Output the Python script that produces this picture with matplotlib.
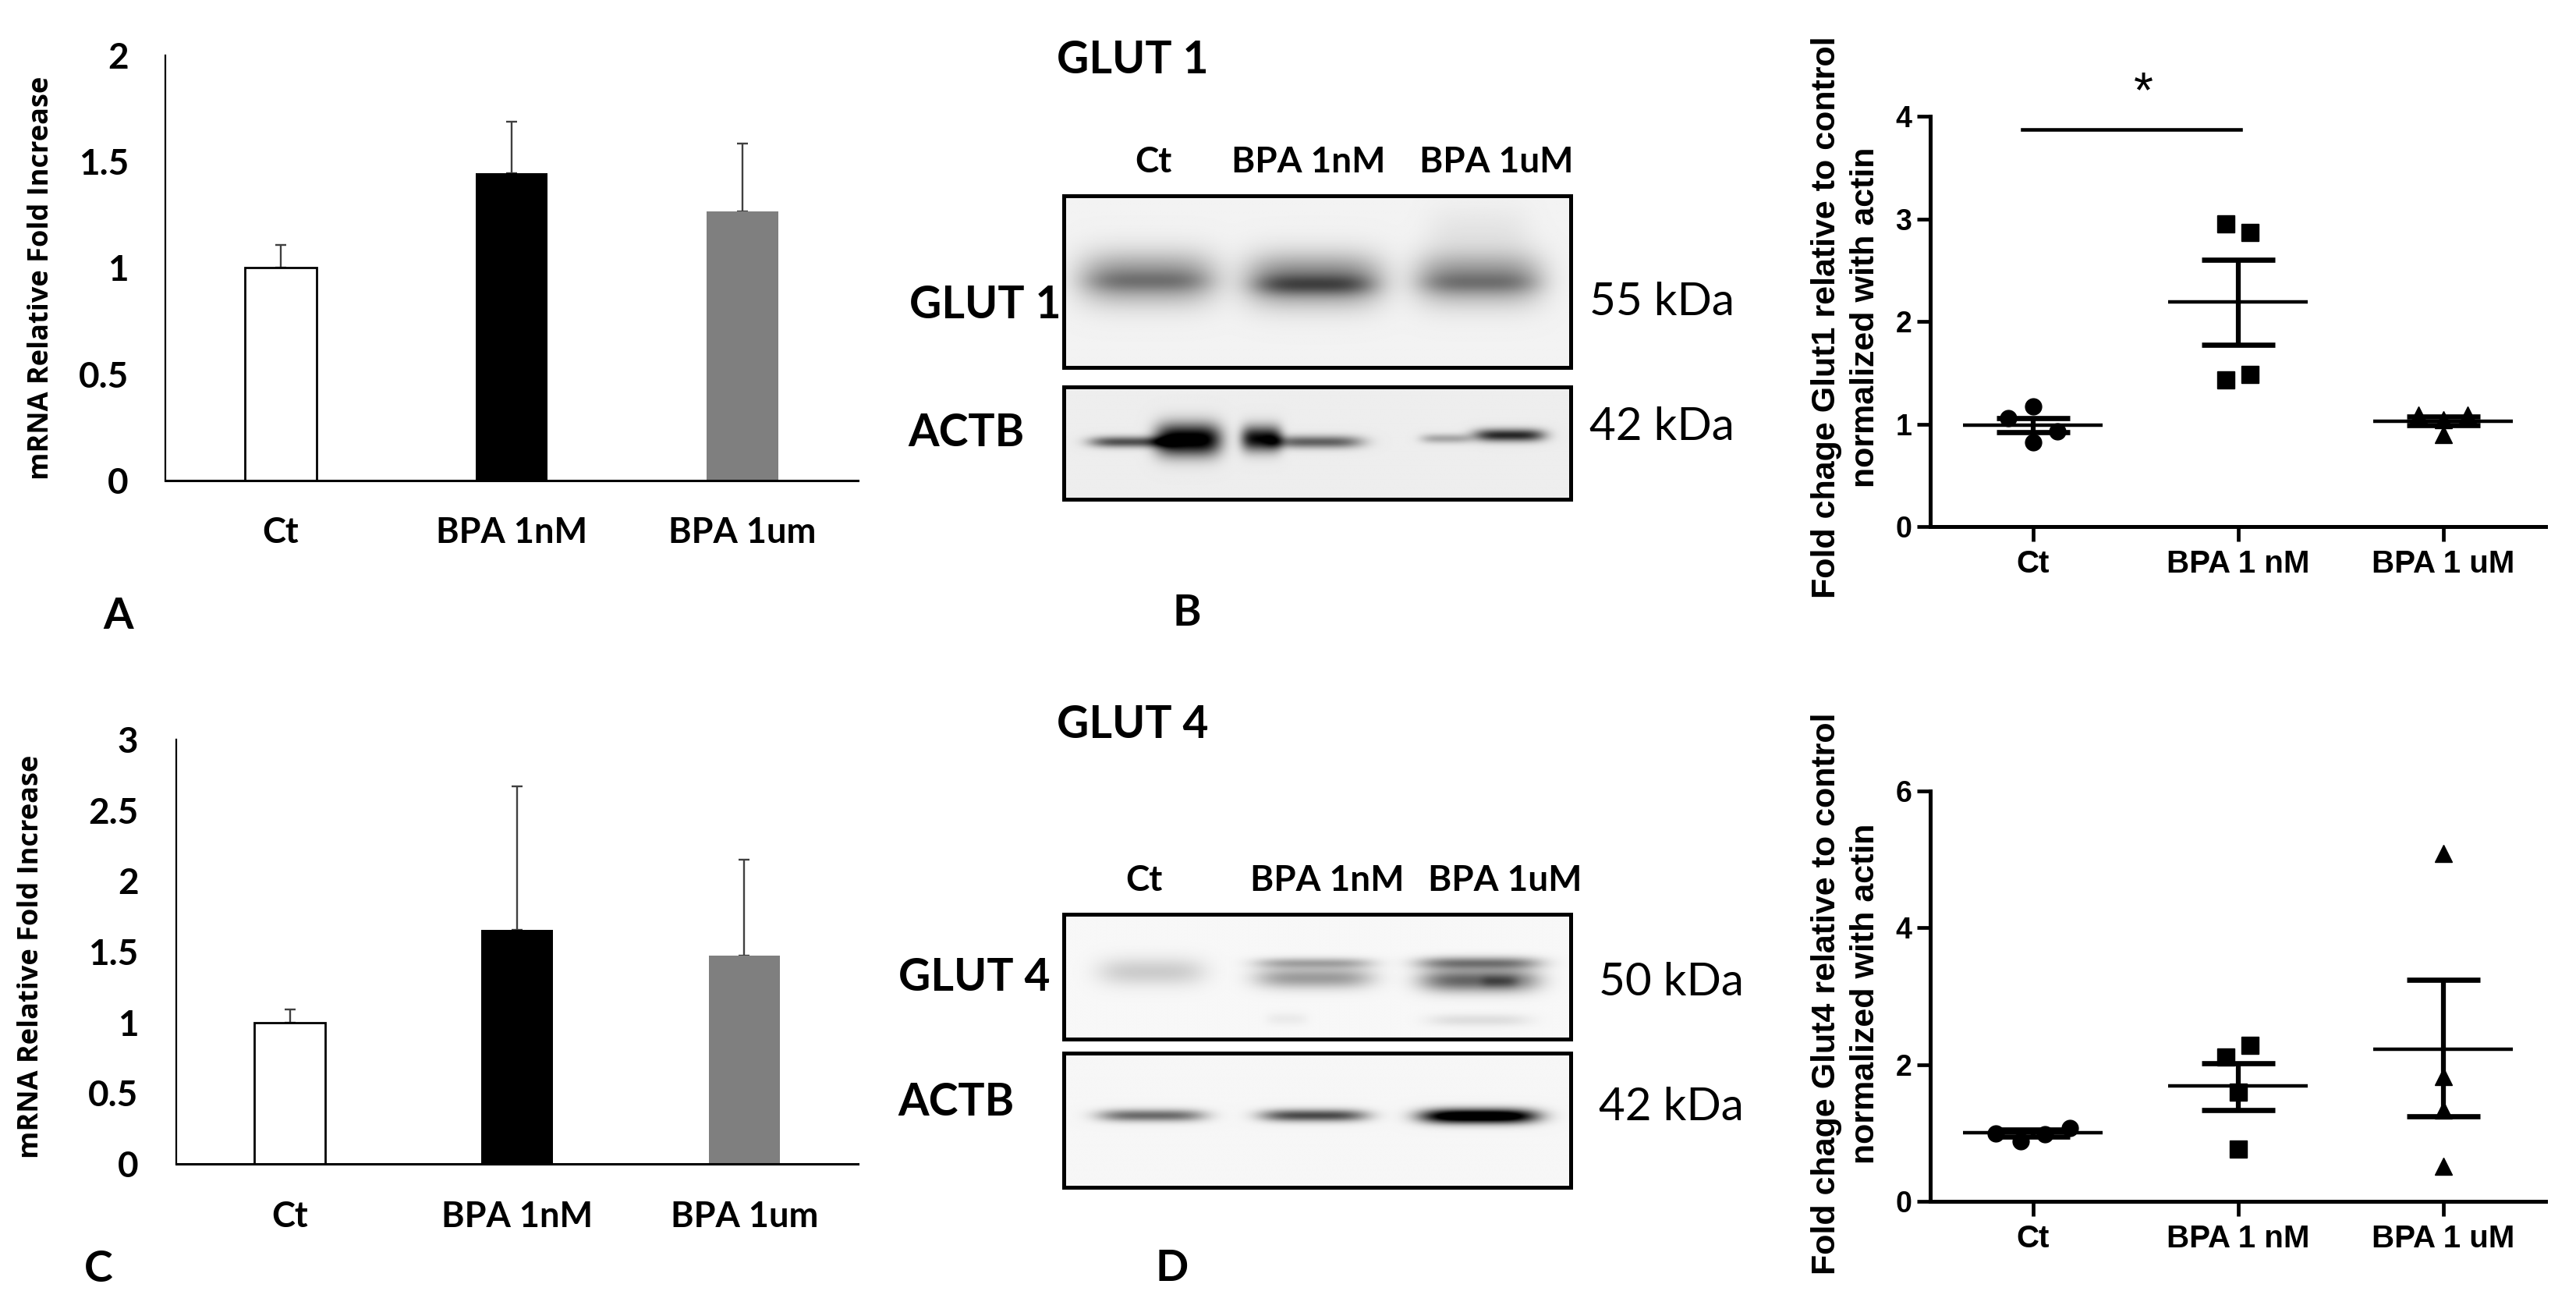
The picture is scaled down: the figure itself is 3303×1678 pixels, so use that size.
import numpy as np
import matplotlib
matplotlib.use("Agg")
import matplotlib.pyplot as plt

W, H = 3303, 1678
SANS = "Lato"
ARIAL = "Liberation Sans"

bar_labels_a = ["Ct", "BPA 1nM", "BPA 1um"]
bar_colors = ["white", "black", "#7f7f7f"]
rna_glut1 = [1.0, 1.446, 1.266]
rna_glut1_err = [0.11, 0.241, 0.32]
rna_glut4 = [1.0, 1.655, 1.474]
rna_glut4_err = [0.093, 1.012, 0.679]
rna_glut1_ticks = [0, 0.5, 1, 1.5, 2]
rna_glut4_ticks = [0, 0.5, 1, 1.5, 2, 2.5, 3]

scatter_labels = ["Ct", "BPA 1 nM", "BPA 1 uM"]
g1_x = [[0, 0, -0.12, 0.12], [-0.06, 0.06, -0.06, 0.06], [-0.12, 0.12, 0, 0]]
g1_y = [[1.17, 0.82, 1.06, 0.93], [2.95, 2.87, 1.43, 1.48], [1.09, 1.09, 0.9, 1.04]]
g1_mean = [0.99, 2.19, 1.03]
g1_hi = [1.06, 2.60, 1.07]
g1_lo = [0.92, 1.77, 0.99]
g4_x = [[-0.18, -0.06, 0.06, 0.18], [-0.06, 0.06, 0, 0], [0, 0, 0, 0]]
g4_y = [[0.99, 0.88, 0.98, 1.07], [2.11, 2.28, 1.60, 0.76], [5.09, 1.83, 1.34, 0.51]]
g4_mean = [1.0, 1.69, 2.22]
g4_hi = [1.05, 2.02, 3.24]
g4_lo = [0.95, 1.33, 1.24]
markers = ["o", "s", "^"]

# blot bands: x centre, x half width, y centre, y sigma, darkness
blot_g1 = [(.165, .135, .48, .105, .40), (.165, .12, .50, .04, .12),
           (.494, .135, .49, .105, .46), (.494, .115, .52, .04, .26),
           (.82, .125, .48, .105, .40), (.82, .115, .51, .04, .13),
           (.82, .10, .20, .10, .05)]
blot_a1 = [(.245, .065, .47, .10, 1.05), (.13, .08, .49, .035, .62),
           (.39, .04, .46, .08, .9), (.50, .09, .49, .04, .55),
           (.88, .07, .43, .04, .78), (.755, .05, .46, .03, .28)]
blot_g4 = [(.173, .105, .46, .08, .17), (.494, .115, .39, .03, .30),
           (.494, .115, .51, .06, .36), (.82, .12, .39, .035, .48),
           (.82, .115, .53, .065, .58), (.86, .035, .54, .035, .15),
           (.82, .10, .85, .035, .1), (.44, .04, .84, .035, .05)]
blot_a4 = [(.173, .105, .465, .032, .55), (.494, .105, .465, .032, .68),
           (.82, .115, .47, .038, 1.25)]


def axpx(x0, y0, x1, y1):
    return fig.add_axes([x0 / W, 1 - y1 / H, (x1 - x0) / W, (y1 - y0) / H])


def label(x, y, s, size, weight="bold", family=SANS, **kw):
    fig.text(x / W, 1 - y / H, s, fontsize=size, fontweight=weight, family=family,
             ha="center", va="center", **kw)


fig = plt.figure(figsize=(W / 100, H / 100), dpi=100, facecolor="white")


def bar_panel(box, vals, errs, ticks, ylabel_xy, pad_y, pad_x):
    ax = axpx(*box)
    x = np.arange(3)
    for i in x:
        ax.bar(i, vals[i], width=0.314, color=bar_colors[i], edgecolor="black",
               linewidth=2.0 if i == 0 else 0, zorder=2)
        ax.errorbar(i, vals[i], yerr=[[0], [errs[i]]], color="#404040", elinewidth=1.7,
                    capsize=5, capthick=1.7, zorder=1)
    ax.set_xlim(-0.5, 2.5)
    ax.set_ylim(0, ticks[-1])
    ax.set_xticks(x, bar_labels_a)
    ax.set_yticks(ticks, [f"{t:g}" for t in ticks])
    ax.tick_params(axis="y", length=0, pad=pad_y, labelsize=33)
    ax.tick_params(axis="x", length=0, pad=pad_x, labelsize=32.5)
    for t in ax.get_xticklabels() + ax.get_yticklabels():
        t.set_fontweight("bold")
        t.set_family(SANS)
    ax.spines[["top", "right"]].set_visible(False)
    ax.spines["left"].set_linewidth(1.6)
    ax.spines["bottom"].set_linewidth(2.2)
    fig.text(ylabel_xy[0] / W, 1 - ylabel_xy[1] / H, "mRNA Relative Fold Increase",
             rotation=90, fontsize=26, fontweight="bold", family="Open Sans",
             ha="center", va="center")


bar_panel((212, 71, 1100, 616), rna_glut1, rna_glut1_err, rna_glut1_ticks, (53, 356), 34, 33)
bar_panel((226, 948, 1100, 1492), rna_glut4, rna_glut4_err, rna_glut4_ticks, (40, 1226), 35, 34)


def scatter_panel(box, xs, ys, mean, hi, lo, ylim, ticks, name, ylab_y):
    ax = axpx(*box)
    for i in range(3):
        ax.plot(np.array(xs[i]) + i, ys[i], ls="none", marker=markers[i], color="black",
                ms=16 if i else 15, mec="black", clip_on=False, zorder=2)
        ax.plot([i - 0.34, i + 0.34], [mean[i], mean[i]], color="black", lw=3.2,
                solid_capstyle="butt", zorder=3)
        ax.errorbar(i, mean[i], yerr=[[mean[i] - lo[i]], [hi[i] - mean[i]]], color="black",
                    elinewidth=4.5, capsize=34, capthick=4.8, zorder=3)
    ax.set_xlim(-0.5, 2.5)
    ax.set_ylim(0, ylim)
    ax.set_xticks(range(3), scatter_labels)
    ax.set_yticks(ticks)
    ax.tick_params(axis="y", length=12, width=3.4, pad=5, labelsize=27)
    ax.tick_params(axis="x", length=14, width=3.4, pad=7, labelsize=29)
    for t in ax.get_xticklabels() + ax.get_yticklabels():
        t.set_fontweight("bold")
        t.set_family(ARIAL)
    ax.spines[["top", "right"]].set_visible(False)
    ax.spines["left"].set_linewidth(3.6)
    ax.spines["bottom"].set_linewidth(3.6)
    fig.text(2367 / W, 1 - ylab_y / H, f"Fold chage {name} relative to control\nnormalized with actin",
             rotation=90, fontsize=31, fontweight="bold", family=ARIAL, ha="center",
             va="center", linespacing=1.33, multialignment="center")
    return ax


ax_e = scatter_panel((2475, 149, 3264, 675), g1_x, g1_y, g1_mean, g1_hi, g1_lo, 4,
                     [0, 1, 2, 3, 4], "Glut1", 407)
ax_e.plot([-0.05, 1.015], [3.87, 3.87], color="black", lw=3.3, clip_on=False)
ax_e.text(0.54, 4.22, "*", fontsize=46, ha="center", va="center", family=ARIAL, clip_on=False)
scatter_panel((2475, 1014, 3264, 1540), g4_x, g4_y, g4_mean, g4_hi, g4_lo, 6,
              [0, 2, 4, 6], "Glut4", 1274)


def blot(box, bands, bg):
    ax = axpx(*box)
    nx, ny = 400, 200
    xx, yy = np.meshgrid(np.linspace(0, 1, nx), np.linspace(0, 1, ny))
    img = np.full(xx.shape, float(bg))
    for xc, hw, yc, sy, amp in bands:
        img -= amp * np.exp(-np.abs((xx - xc) / hw) ** 4) * np.exp(-0.5 * ((yy - yc) / sy) ** 2)
    ax.imshow(np.clip(img, 0, 1), cmap="gray", vmin=0, vmax=1, aspect="auto",
              extent=(0, 1, 1, 0), interpolation="bilinear")
    ax.set_xticks([])
    ax.set_yticks([])
    for s in ax.spines.values():
        s.set_linewidth(3.6)


blot((1364, 251, 2014, 471), blot_g1, 0.95)
blot((1364, 496, 2014, 640), blot_a1, 0.93)
blot((1364, 1172, 2014, 1332), blot_g4, 0.97)
blot((1364, 1350, 2014, 1522), blot_a4, 0.965)

for s, x, y in [("Ct", 1479, 208), ("BPA 1nM", 1678, 208), ("BPA 1uM", 1919, 208),
                ("Ct", 1467, 1129), ("BPA 1nM", 1702, 1129), ("BPA 1uM", 1930, 1129)]:
    label(x, y, s, 33)
for s, x, y in [("GLUT 1", 1452, 78), ("GLUT 1", 1263, 392), ("ACTB", 1239, 555),
                ("GLUT 4", 1452, 930), ("GLUT 4", 1249, 1253), ("ACTB", 1226, 1413)]:
    label(x, y, s, 41)
for s, x, y in [("55 kDa", 2131, 388), ("42 kDa", 2131, 548),
                ("50 kDa", 2143, 1259), ("42 kDa", 2143, 1420)]:
    label(x, y, s, 42, weight="normal")
for s, x, y in [("A", 152, 790), ("B", 1522, 786), ("C", 126, 1627), ("D", 1503, 1626)]:
    label(x, y, s, 40)

fig.savefig("out.png", dpi=100, facecolor="white")
